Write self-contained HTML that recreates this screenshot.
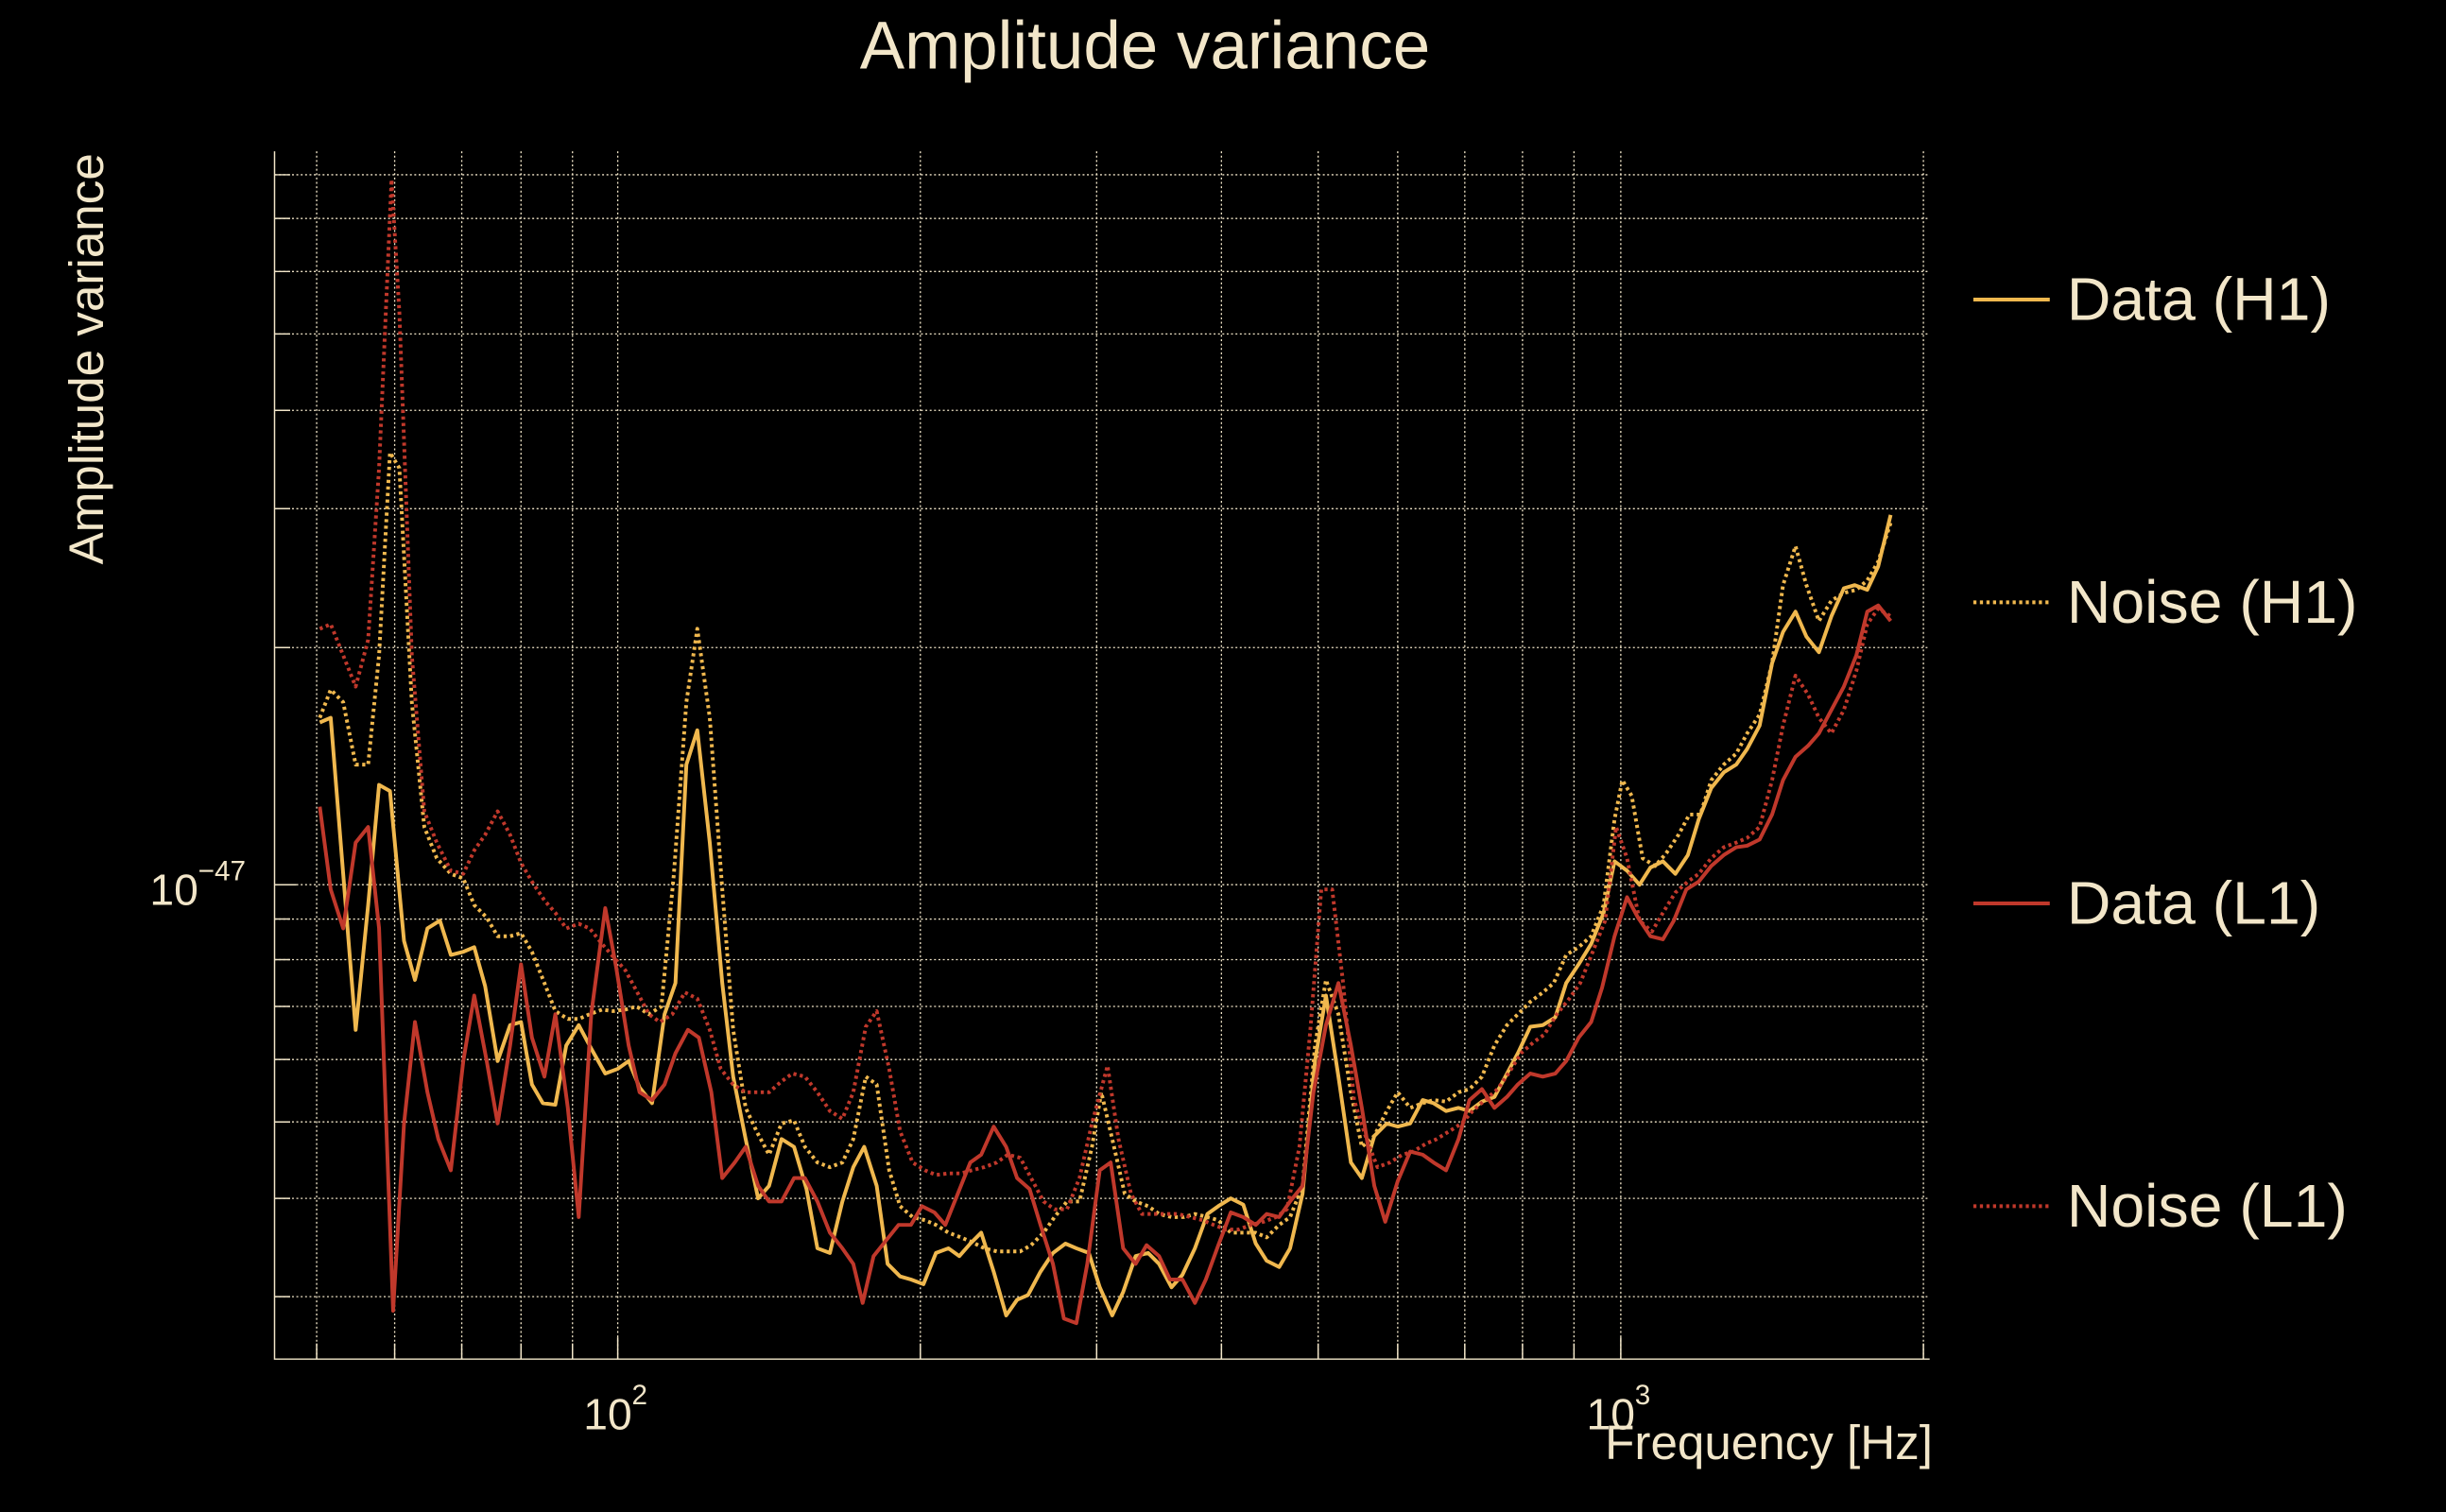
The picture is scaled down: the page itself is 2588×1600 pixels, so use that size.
<!DOCTYPE html>
<html><head><meta charset="utf-8"><style>
html,body{margin:0;padding:0;background:#000;}
svg{display:block;}
text{font-family:"Liberation Sans",sans-serif;fill:#f2e6c9;}
</style></head><body>
<svg width="2588" height="1600" viewBox="0 0 1568 969" preserveAspectRatio="none" xmlns="http://www.w3.org/2000/svg">
<rect width="1568" height="969" fill="#000"/>
<g stroke="#f2e6c9" stroke-width="0.8" stroke-dasharray="1.2,1.6" fill="none">
<line x1="203" y1="97" x2="203" y2="871"/><line x1="253" y1="97" x2="253" y2="871"/>
<line x1="296" y1="97" x2="296" y2="871"/><line x1="334" y1="97" x2="334" y2="871"/>
<line x1="367" y1="97" x2="367" y2="871"/><line x1="396" y1="97" x2="396" y2="871"/>
<line x1="590" y1="97" x2="590" y2="871"/><line x1="703" y1="97" x2="703" y2="871"/>
<line x1="783" y1="97" x2="783" y2="871"/><line x1="845" y1="97" x2="845" y2="871"/>
<line x1="896" y1="97" x2="896" y2="871"/><line x1="939" y1="97" x2="939" y2="871"/>
<line x1="976" y1="97" x2="976" y2="871"/><line x1="1009" y1="97" x2="1009" y2="871"/>
<line x1="1039" y1="97" x2="1039" y2="871"/><line x1="1233" y1="97" x2="1233" y2="871"/>
<line x1="176" y1="112" x2="1237" y2="112"/><line x1="176" y1="140" x2="1237" y2="140"/>
<line x1="176" y1="174" x2="1237" y2="174"/><line x1="176" y1="214" x2="1237" y2="214"/>
<line x1="176" y1="263" x2="1237" y2="263"/><line x1="176" y1="326" x2="1237" y2="326"/>
<line x1="176" y1="415" x2="1237" y2="415"/><line x1="176" y1="567" x2="1237" y2="567"/>
<line x1="176" y1="589" x2="1237" y2="589"/><line x1="176" y1="615" x2="1237" y2="615"/>
<line x1="176" y1="645" x2="1237" y2="645"/><line x1="176" y1="679" x2="1237" y2="679"/>
<line x1="176" y1="719" x2="1237" y2="719"/><line x1="176" y1="768" x2="1237" y2="768"/>
<line x1="176" y1="831" x2="1237" y2="831"/>
</g>
<g stroke="#f2e6c9" stroke-width="0.9" fill="none">
<polyline points="176,97 176,871 1237,871"/>
<path d="M176 112h10M176 140h10M176 174h10M176 214h10M176 263h10M176 326h10M176 415h10M176 567h14M176 589h10M176 615h10M176 645h10M176 679h10M176 719h10M176 768h10M176 831h10"/>
<path d="M203 871v-10M253 871v-10M296 871v-10M334 871v-10M367 871v-10M396 871v-14M590 871v-10M703 871v-10M783 871v-10M845 871v-10M896 871v-10M939 871v-10M976 871v-10M1009 871v-10M1039 871v-14M1233 871v-10"/>
</g>
<g fill="none" stroke-width="2.4" stroke-linejoin="round">
<polyline stroke="#f0b84e" points="205,463 212,460 220,560 228,660 236,580 243,503 250,507 259,603 266,628 274,595 282,590 289,612 297,610 304,607 311,632 319,680 327,657 334,655 341,695 348,707 356,708 363,670 371,657 379,672 388,688 396,685 403,680 410,697 418,707 426,650 433,630 440,490 447,468 455,540 463,630 470,690 478,730 486,768 493,760 501,730 509,735 517,762 524,800 532,803 540,770 547,748 554,735 562,760 569,810 577,818 584,820 592,823 600,803 608,800 615,805 622,797 629,790 637,815 645,843 652,833 659,830 667,815 675,803 683,797 690,800 698,803 705,825 713,843 720,828 728,805 736,803 743,810 751,825 758,817 766,800 774,778 781,773 789,768 797,772 805,797 812,808 820,812 827,800 835,765 843,680 850,638 858,690 866,745 873,755 881,728 889,720 896,722 904,720 912,705 919,707 927,712 935,710 942,712 950,706 958,703 965,690 973,675 981,658 989,657 997,652 1004,630 1012,618 1020,605 1028,585 1035,552 1043,558 1051,567 1058,556 1066,552 1074,560 1082,548 1089,525 1097,505 1105,495 1113,490 1120,480 1128,465 1136,425 1143,405 1151,392 1158,408 1166,418 1174,395 1182,377 1189,375 1197,378 1204,363 1212,330"/>
<polyline stroke="#f0b84e" stroke-dasharray="2,2.2" points="205,460 212,442 220,450 228,490 236,490 243,420 250,290 256,300 264,450 272,530 280,550 289,560 297,563 304,580 312,588 319,600 327,600 334,598 341,610 349,630 356,648 364,653 371,653 378,650 386,647 393,648 401,647 408,645 416,650 424,645 432,560 440,450 447,403 455,460 463,570 470,660 478,710 485,725 493,740 501,720 509,718 516,735 524,745 532,748 540,745 547,730 555,690 562,695 570,750 577,773 585,780 593,782 600,785 608,790 616,793 623,796 631,800 639,802 646,802 654,802 661,798 669,790 676,780 684,770 692,770 700,735 706,700 713,730 721,765 728,770 736,773 743,778 751,780 759,780 766,778 774,780 781,782 789,790 797,790 805,790 812,793 820,785 827,780 835,760 843,670 850,628 858,650 866,700 873,735 881,728 889,712 896,700 904,710 912,707 919,705 927,706 935,700 942,698 950,690 958,670 966,657 973,650 981,642 989,636 996,630 1004,612 1012,607 1020,600 1028,580 1035,525 1040,500 1046,510 1053,550 1061,555 1068,547 1076,535 1083,522 1090,522 1097,500 1105,490 1113,483 1120,470 1128,458 1136,425 1143,375 1151,350 1158,375 1166,398 1174,385 1182,380 1190,378 1197,372 1204,360 1212,335"/>
<polyline stroke="#c0382b" points="205,517 212,570 220,595 228,540 236,530 243,595 252,840 259,720 266,655 274,700 281,730 289,750 297,680 304,638 312,680 319,720 327,670 334,618 341,665 349,690 356,650 364,710 371,780 379,650 388,582 395,620 403,670 410,700 418,705 426,695 433,675 441,660 448,665 456,700 463,755 471,745 478,735 486,760 493,770 501,770 509,755 516,755 524,770 532,790 540,800 547,810 553,835 560,805 568,795 576,785 584,785 591,773 599,777 606,785 614,765 622,745 629,740 637,722 645,735 652,755 660,762 667,785 675,810 682,845 690,848 697,810 705,750 712,745 720,800 728,810 735,798 743,805 750,820 758,820 766,835 773,820 781,798 789,777 797,780 805,785 812,778 820,780 827,770 835,760 842,700 850,657 858,630 866,670 873,710 881,760 888,783 896,757 904,738 912,740 919,745 927,750 935,730 942,705 950,698 958,710 966,703 973,695 981,688 989,690 997,688 1004,680 1012,665 1020,655 1027,633 1035,600 1043,575 1050,588 1058,600 1066,602 1073,590 1081,570 1089,565 1097,555 1105,548 1113,543 1120,542 1128,538 1136,522 1143,500 1151,485 1159,478 1166,470 1174,455 1182,440 1190,420 1197,392 1204,388 1212,398"/>
<polyline stroke="#c0382b" stroke-dasharray="2,2.2" points="205,403 212,400 220,420 228,440 236,410 243,300 251,115 256,200 264,420 272,520 280,540 289,558 297,560 304,545 311,535 319,520 327,535 334,553 341,565 349,577 356,585 363,595 371,592 378,595 386,605 393,613 401,622 408,635 416,650 423,655 431,650 439,636 447,640 455,660 462,685 470,695 478,700 485,700 493,700 501,693 508,688 516,690 524,700 532,712 540,717 547,700 555,658 562,648 570,685 577,725 585,745 593,750 600,753 608,752 616,752 623,750 631,748 639,745 646,740 654,742 661,755 669,770 676,775 684,775 692,755 700,720 710,683 717,730 725,765 732,778 740,778 748,778 755,778 763,780 771,782 778,785 786,788 794,788 802,785 810,783 818,780 825,775 833,735 840,660 847,570 854,570 861,630 868,705 876,730 883,748 891,745 899,740 906,738 914,733 921,730 929,725 937,720 944,712 952,705 960,698 967,688 975,675 983,668 990,663 998,650 1006,640 1013,630 1021,610 1029,590 1036,530 1043,550 1051,590 1059,597 1066,585 1074,572 1082,565 1089,560 1097,550 1105,543 1113,540 1120,537 1128,530 1136,500 1143,465 1151,433 1159,445 1166,460 1174,470 1182,455 1190,430 1197,400 1204,390 1212,395"/>
</g>
<text x="734" y="44" font-size="43" text-anchor="middle">Amplitude variance</text>
<text transform="translate(66,230) rotate(-90)" font-size="31" text-anchor="middle">Amplitude variance</text>
<text x="96" y="580" font-size="28">10</text><text x="127" y="564" font-size="18">−47</text>
<text x="374" y="916" font-size="28">10</text><text x="405" y="900" font-size="18">2</text>
<text x="1017" y="916" font-size="28">10</text><text x="1048" y="900" font-size="18">3</text>
<text x="1239" y="935" font-size="31" text-anchor="end">Frequency [Hz]</text>
<g stroke-width="2.4">
<line x1="1265" y1="192" x2="1314" y2="192" stroke="#f0b84e"/>
<line x1="1265" y1="386" x2="1314" y2="386" stroke="#f0b84e" stroke-dasharray="2,2.2"/>
<line x1="1265" y1="579" x2="1314" y2="579" stroke="#c0382b"/>
<line x1="1265" y1="773" x2="1314" y2="773" stroke="#c0382b" stroke-dasharray="2,2.2"/>
</g>
<g font-size="39">
<text x="1325" y="205">Data (H1)</text>
<text x="1325" y="399">Noise (H1)</text>
<text x="1325" y="592">Data (L1)</text>
<text x="1325" y="786">Noise (L1)</text>
</g>
</svg>
</body></html>
